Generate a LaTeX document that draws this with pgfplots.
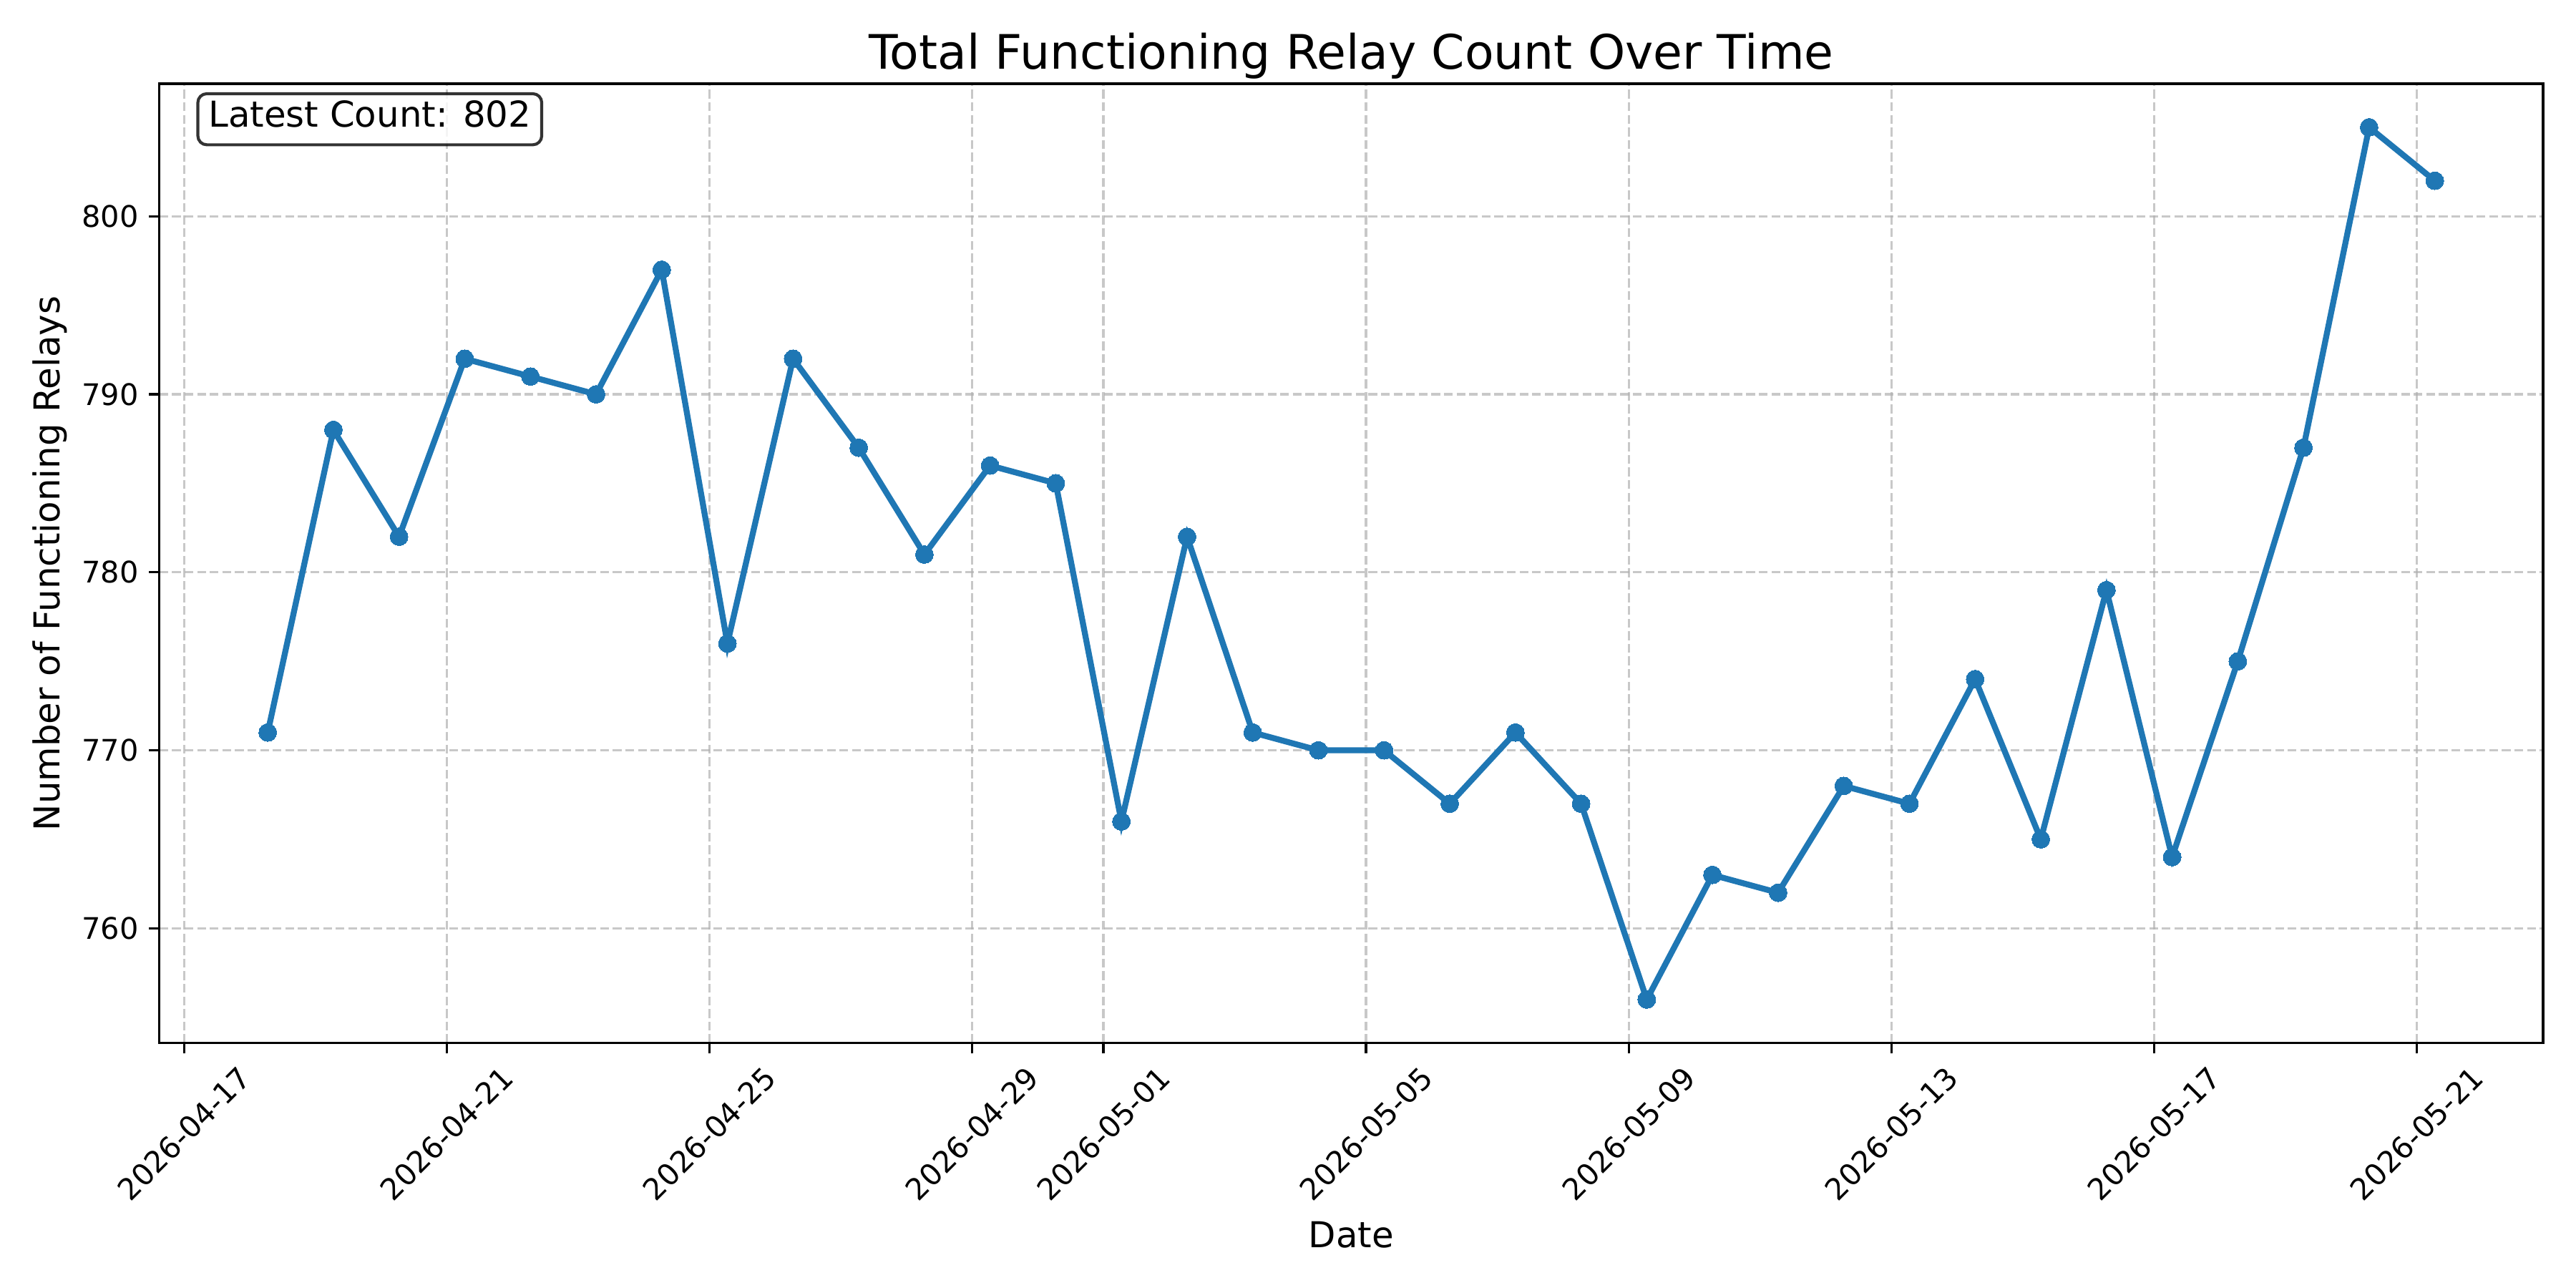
\documentclass[border=0pt]{standalone}
\usepackage{pgfplots}
\pgfplotsset{compat=1.18}
\usepackage{fontspec}
\setmainfont{DejaVu Sans}
\definecolor{mplblue}{HTML}{1F77B4}
\definecolor{gridgray}{HTML}{B0B0B0}
\newcommand{\rl}[1]{\rotatebox{45}{#1}}
\begin{document}
\begin{tikzpicture}
\useasboundingbox (-18.86mm,-28.96mm) rectangle (285.95mm,123.43mm);
\begin{axis}[
  at={(0,0)}, anchor=south west,
  scale only axis,
  width=282.06mm, height=113.52mm,
  xmin=-0.375, xmax=35.925,
  ymin=753.55, ymax=807.45,
  xtick={0,4,8,12,14,18,22,26,30,34},
  xticklabels={\rl{2026-04-17},\rl{2026-04-21},\rl{2026-04-25},\rl{2026-04-29},\rl{2026-05-01},\rl{2026-05-05},\rl{2026-05-09},\rl{2026-05-13},\rl{2026-05-17},\rl{2026-05-21}},
  ytick={760,770,780,790,800},
  /pgf/number format/assume math mode=true,
  /pgf/number format/1000 sep={},
  xticklabel style={anchor=north, font=\fontsize{10}{12}\selectfont, inner sep=0pt, yshift=-3.5pt},
  yticklabel style={font=\fontsize{10}{12}\selectfont},
  tick align=outside,
  major tick length=3.5pt,
  tick style={black, line width=0.8pt},
  axis line style={line width=0.8pt},
  xtick pos=bottom, ytick pos=left,
  grid=major,
  major grid style={gridgray, opacity=0.7, line width=0.8pt, dash pattern=on 2.96pt off 1.28pt},
  title={Total Functioning Relay Count Over Time},
  title style={font=\fontsize{16}{19}\selectfont, yshift=-8pt},
  xlabel={Date},
  ylabel={Number of Functioning Relays},
  label style={font=\fontsize{12}{14}\selectfont},
  xlabel style={yshift=-3pt},
  ylabel style={yshift=-2pt},
]
\addplot[mplblue, line width=2pt, mark=*, mark size=3pt, mark options={fill=mplblue, draw=mplblue, line width=0pt}] coordinates {
(1.275,771) (2.275,788) (3.275,782) (4.275,792) (5.275,791) (6.275,790) (7.275,797) (8.275,776) (9.275,792) (10.275,787)
(11.275,781) (12.275,786) (13.275,785) (14.275,766) (15.275,782) (16.275,771) (17.275,770) (18.275,770) (19.275,767) (20.275,771)
(21.275,767) (22.275,756) (23.275,763) (24.275,762) (25.275,768) (26.275,767) (27.275,774) (28.275,765) (29.275,779) (30.275,764)
(31.275,775) (32.275,787) (33.275,805) (34.275,802)
};
\node[anchor=north west, xshift=-3.6pt, yshift=3.6pt, draw=black, draw opacity=0.8, fill=white, fill opacity=0.8, text opacity=1, rounded corners=3pt, inner sep=3.6pt, text height=7.6pt, text depth=2.4pt, line width=1pt, font=\fontsize{12}{14}\selectfont] at (rel axis cs:0.02,0.98) {Latest Count: 802};
\end{axis}
\end{tikzpicture}
\end{document}
